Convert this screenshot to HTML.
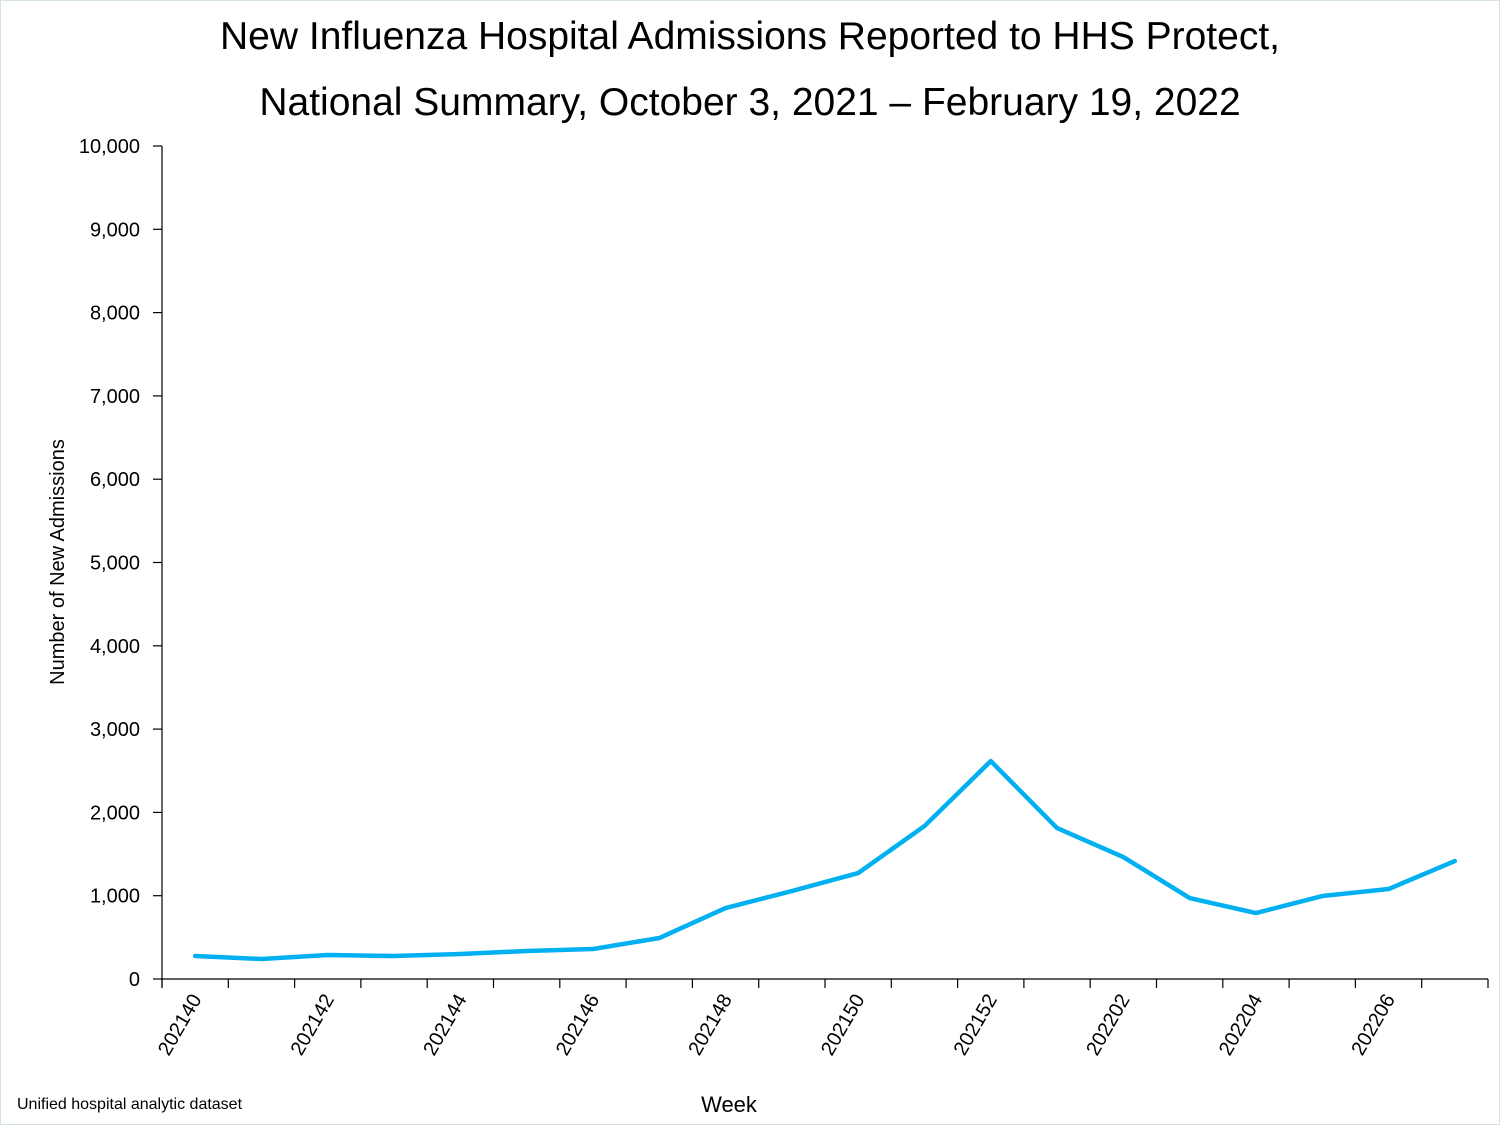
<!DOCTYPE html>
<html><head><meta charset="utf-8"><style>
body{margin:0;background:#fff;}
svg{display:block;font-family:"Liberation Sans",sans-serif;}
</style></head><body>
<svg id="chart" width="1500" height="1125" xmlns="http://www.w3.org/2000/svg">
<rect x="0.5" y="0.5" width="1499" height="1124" fill="#fff" stroke="#d6e6d6"/>
<text x="750" y="49" text-anchor="middle" font-size="39" fill="#000">New Influenza Hospital Admissions Reported to HHS Protect,</text>
<text x="750" y="115" text-anchor="middle" font-size="39" fill="#000">National Summary, October 3, 2021 – February 19, 2022</text>
<text transform="translate(64,562) rotate(-90)" text-anchor="middle" font-size="20">Number of New Admissions</text>
<text x="729" y="1112" text-anchor="middle" font-size="22">Week</text>
<text x="17" y="1109" font-size="16">Unified hospital analytic dataset</text>
<g id="axes"></g>
<g id="marks"></g>
</svg>
<script>
const weeks=["202140","202141","202142","202143","202144","202145","202146","202147","202148","202149","202150","202151","202152","202201","202202","202203","202204","202205","202206","202207"];
const admissions=[276,240,288,276,300,336,360,492,852,1056,1272,1836,2616,1812,1464,972,792,996,1080,1416];
const yTicks=[0,1000,2000,3000,4000,5000,6000,7000,8000,9000,10000];
const yTickLabels=["0","1,000","2,000","3,000","4,000","5,000","6,000","7,000","8,000","9,000","10,000"];
const NS="http://www.w3.org/2000/svg";
const X0=162,X1=1488,Y0=979,Y1=146,YMAX=10000;
const band=(X1-X0)/weeks.length;
const xs=i=>X0+band*(i+0.5);
const ys=v=>Y0-(v/YMAX)*(Y0-Y1);
function mk(t,a,p){const e=document.createElementNS(NS,t);for(const k in a)e.setAttribute(k,a[k]);p.appendChild(e);return e;}
const ax=document.getElementById('axes'),mg=document.getElementById('marks');
let l=mk('line',{x1:X0,y1:Y1,x2:X0,y2:Y0+8,stroke:'#000','stroke-width':1.2},ax);


l=mk('line',{x1:X0,y1:Y0,x2:X1,y2:Y0,stroke:'#000','stroke-width':1.2},ax);


yTicks.forEach((v,i)=>{
 const t=mk('line',{x1:X0-9,y1:ys(v),x2:X0,y2:ys(v),stroke:'#000','stroke-width':1.2},ax);
 
 
 const tx=mk('text',{x:X0-22,y:ys(v)+7,'text-anchor':'end','font-size':20},ax);
 tx.textContent=yTickLabels[i];
 
 
});
for(let i=0;i<=weeks.length;i++){
 const x=X0+band*i;
 const t=mk('line',{x1:x,y1:Y0,x2:x,y2:Y0+9,stroke:'#000','stroke-width':1.2},ax);
 
 
}
weeks.forEach((w,i)=>{
 if(i%2)return;
 const x=xs(i)+7,y=Y0+20;
 const tx=mk('text',{x:x,y:y,'text-anchor':'end','font-size':20,transform:`rotate(-60 ${x} ${y})`},ax);
 tx.textContent=w;
 
 
});
const pts=admissions.map((v,i)=>xs(i)+','+ys(v)).join(' ');
const pl=mk('polyline',{points:pts,fill:'none',stroke:'#00b0f0','stroke-width':4.5,'stroke-linejoin':'round','stroke-linecap':'round'},mg);


</script>
</body></html>
